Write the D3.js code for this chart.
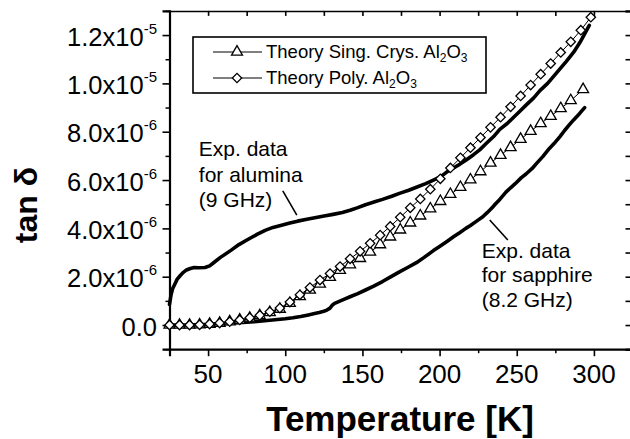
<!DOCTYPE html>
<html><head><meta charset="utf-8">
<script src="https://cdn.jsdelivr.net/npm/d3@7"></script>
<style>
body{margin:0;background:#fff;}
svg{display:block;font-family:"Liberation Sans",Arial,sans-serif;}
</style></head>
<body><svg id="c" width="630" height="439"></svg>
<script>
// ---- data (tan delta in units of 1e-6) ----
const polyT = [25,31.5,38,44.5,51,57.5,64,70.5,77,83.5,90,96.5,103,109.5,116,122.5,129,135.5,142,148.5,155,161.5,168,174.5,181,187.5,194,200.5,207,213.5,220,226.5,233,239.5,246,252.5,259,265.5,272,278.5,285,291.5,298];
const polyV = [0,0,0,0.01,0.04,0.08,0.14,0.21,0.3,0.4,0.55,0.7,0.95,1.25,1.55,1.86,2.13,2.42,2.74,3.05,3.38,3.72,4.08,4.46,4.85,5.22,5.62,6.05,6.5,6.92,7.34,7.76,8.18,8.6,9.03,9.48,9.93,10.38,10.82,11.28,11.72,12.2,12.74];
const singT = [25,31.5,38,44.5,51,57.5,64,70.5,77,83.5,90,96.5,103,109.5,116,122.5,129,135.5,142,148.5,155,161.5,168,174.5,181,187.5,194,200.5,207,213.5,220,226.5,233,239.5,246,252.5,259,265.5,272,278.5,285,293];
const singV = [0,0,0,0.01,0.04,0.08,0.14,0.21,0.29,0.39,0.52,0.66,0.9,1.18,1.45,1.7,1.98,2.27,2.5,2.76,3.02,3.33,3.65,3.94,4.23,4.52,4.81,5.12,5.41,5.7,6.01,6.35,6.71,7.03,7.35,7.69,8.02,8.34,8.64,8.96,9.29,9.75];
const aluT = [25,26,27,28.5,30,32,34,36,38.5,41,44,48,51,54,58,65,70,76,82,87,92,97,103,108,114,120,126,131,137,142,147,152,158,163,169,174,180,185,191,196,201,205,209,213,217,222,226,230,235,239,244,248,252,256,261,265,270,274,278,282,287,291,294,297];
const aluV = [0.85,1.25,1.5,1.7,1.9,2.05,2.18,2.28,2.34,2.38,2.37,2.38,2.45,2.6,2.8,3.1,3.33,3.55,3.76,3.92,4.04,4.12,4.22,4.3,4.38,4.45,4.52,4.58,4.66,4.75,4.86,4.98,5.1,5.2,5.33,5.45,5.58,5.7,5.85,6.0,6.15,6.35,6.5,6.65,6.82,7.05,7.25,7.5,7.8,8.1,8.35,8.6,8.85,9.1,9.4,9.7,10.0,10.3,10.6,10.9,11.3,11.7,12.05,12.4];
const sapT = [25,30,35,40,45,50,55,60,65,70,75,80,85,90,95,100,105,110,115,119,122,125,127,129,130.5,132,135,138,142,147,152,157,163,168,174,179,185,190,196,200,205,209,213,217,220,224,228,231,234,236,239,243,246,249,253,256,260,263,267,271,274,278,281,284,287,290,292,294];
const sapV = [0.0,0.0,0.0,0.01,0.02,0.03,0.05,0.06,0.08,0.1,0.12,0.14,0.17,0.2,0.23,0.26,0.3,0.35,0.42,0.48,0.52,0.57,0.62,0.7,0.82,0.9,0.98,1.06,1.17,1.3,1.45,1.6,1.8,1.98,2.2,2.37,2.58,2.8,3.08,3.25,3.47,3.65,3.82,4.0,4.12,4.3,4.48,4.66,4.85,5.0,5.2,5.5,5.68,5.85,6.1,6.25,6.48,6.7,6.98,7.3,7.5,7.8,8.05,8.28,8.5,8.7,8.85,9.0];

const xMajor = [50,100,150,200,250,300];
const xMinor = [25,75,125,175,225,275,325];
const yMajor = [0,2,4,6,8,10,12];
const yMinor = [-1,1,3,5,7,9,11,13];
const yMant = ["0.0","2.0x10","4.0x10","6.0x10","8.0x10","1.0x10","1.2x10"];
const yExp  = ["","-6","-6","-6","-6","-5","-5"];
const legendLabels = [["Theory Sing. Crys. Al","2","O","3"],["Theory Poly. Al","2","O","3"]];
const noteAlumina = ["Exp. data","for alumina","(9 GHz)"];
const noteSapphire = ["Exp. data","for sapphire","(8.2 GHz)"];

const svg = d3.select("#c");
const x = d3.scaleLinear().domain([25,325]).range([169.5,632.5]);
const y = d3.scaleLinear().domain([-1,13]).range([349.2,10.9]);

// frame + ticks
function styleAxis(g, w){ g.select(".domain").attr("stroke","#000").attr("stroke-width",w); g.selectAll(".tick line").attr("stroke","#000").attr("stroke-width",1.6); }
const ax = svg.append("g");
const b = ax.append("g").attr("transform",`translate(0,${y(-1)})`).call(d3.axisBottom(x).tickValues(xMajor).tickSizeOuter(0).tickSize(7).tickFormat(""));
styleAxis(b,2.2);
ax.append("g").attr("transform",`translate(0,${y(-1)})`).call(d3.axisBottom(x).tickValues(xMinor).tickSizeOuter(0).tickSize(4).tickFormat("")).call(g=>{g.select(".domain").remove();g.selectAll("line").attr("stroke","#000").attr("stroke-width",1.5);});
const l = ax.append("g").attr("transform",`translate(${x(25)},0)`).call(d3.axisLeft(y).tickValues(yMajor).tickSizeOuter(0).tickSize(7).tickFormat(""));
styleAxis(l,2.2);
ax.append("g").attr("transform",`translate(${x(25)},0)`).call(d3.axisLeft(y).tickValues(yMinor).tickSizeOuter(0).tickSize(4).tickFormat("")).call(g=>{g.select(".domain").remove();g.selectAll("line").attr("stroke","#000").attr("stroke-width",1.5);});
const t = ax.append("g").attr("transform",`translate(0,${y(13)})`).call(d3.axisTop(x).tickValues(xMajor.concat(xMinor)).tickSizeOuter(0).tickSize(-5).tickFormat(""));
styleAxis(t,1.5);
const r = ax.append("g").attr("transform",`translate(${x(325)},0)`).call(d3.axisRight(y).tickValues(yMajor.concat(yMinor)).tickSizeOuter(0).tickSize(-7).tickFormat(""));
styleAxis(r,2);

// tick labels
svg.append("g").selectAll("text").data(xMajor).join("text")
  .attr("x",d=>x(d)).attr("y",383).attr("text-anchor","middle")
  .attr("font-size",26).text(d=>d);
const yl = svg.append("g").selectAll("text").data(yMajor).join("text")
  .attr("x",157).attr("y",d=>y(d)+10.5).attr("text-anchor","end").attr("font-size",25.5);
yl.append("tspan").text((d,i)=>yMant[i]);
yl.append("tspan").attr("font-size",15).attr("dy",-12).text((d,i)=>yExp[i]);

// titles
svg.append("text").attr("transform","translate(37,205) rotate(-90)").attr("text-anchor","middle")
  .attr("font-size",32).attr("font-weight","bold").text("tan δ");
svg.append("text").attr("x",400).attr("y",431).attr("text-anchor","middle")
  .attr("font-size",35).attr("font-weight","bold").text("Temperature [K]");

// experimental curves
const line = d3.line().x(d=>x(d[0])).y(d=>y(d[1]));
const exp = svg.append("g").attr("fill","none").attr("stroke","#000").attr("stroke-width",3.6).attr("stroke-linejoin","round").attr("stroke-linecap","round");
exp.append("path").attr("d",line(aluT.map((v,i)=>[v,aluV[i]])));
exp.append("path").attr("d",line(sapT.map((v,i)=>[v,sapV[i]])));

// theory curves
const tri = d3.symbol().type(d3.symbolTriangle).size(52);
const dia = d3.symbol().type(d3.symbolSquare).size(44);
function theory(T,V,sym,rot){
  const pts = T.map((v,i)=>[v,V[i]]);
  const g = svg.append("g");
  g.append("path").attr("d",line(pts)).attr("fill","none").attr("stroke","#000").attr("stroke-width",1);
  g.selectAll("path.m").data(pts).join("path").attr("class","m")
    .attr("transform",d=>`translate(${x(d[0])},${y(d[1])}) rotate(${rot})`)
    .attr("d",sym()).attr("fill","#fff").attr("stroke","#000").attr("stroke-width",1.3);
}
theory(singT,singV,tri,0);
theory(polyT,polyV,dia,45);

// legend
const lg = svg.append("g");
lg.append("rect").attr("x",193).attr("y",37).attr("width",293).attr("height",56).attr("fill","#fff").attr("stroke","#000").attr("stroke-width",1.6);
const rows = [{y:52,sym:tri,rot:0},{y:78,sym:dia,rot:45}];
rows.forEach((rw,i)=>{
  lg.append("line").attr("x1",213).attr("x2",262).attr("y1",rw.y).attr("y2",rw.y).attr("stroke","#000").attr("stroke-width",1);
  lg.append("path").attr("d",rw.sym()).attr("transform",`translate(237,${rw.y}) rotate(${rw.rot})`).attr("fill","#fff").attr("stroke","#000").attr("stroke-width",1.3);
  const tx = lg.append("text").attr("x",266).attr("y",rw.y+6).attr("font-size",18.5);
  const p = legendLabels[i];
  tx.append("tspan").text(p[0]);
  tx.append("tspan").attr("font-size",12).attr("dy",4).text(p[1]);
  tx.append("tspan").attr("dy",-4).text(p[2]);
  tx.append("tspan").attr("font-size",12).attr("dy",4).text(p[3]);
});

// annotations
const an = svg.append("g").attr("font-size",21);
an.selectAll("text.a").data(noteAlumina).join("text").attr("class","a")
  .attr("x",x(44)).attr("y",(d,i)=>156+i*25.5).text(d=>d);
an.selectAll("text.s").data(noteSapphire).join("text").attr("class","s")
  .attr("x",x(227.3)).attr("y",(d,i)=>257.5+i*24.5).text(d=>d);
svg.append("line").attr("x1",x(98.4)).attr("y1",y(5.55)).attr("x2",x(107.5)).attr("y2",y(4.55)).attr("stroke","#000").attr("stroke-width",1.6);
svg.append("line").attr("x1",x(244.2)).attr("y1",y(3.52)).attr("x2",x(232.5)).attr("y2",y(4.35)).attr("stroke","#000").attr("stroke-width",1.6);
</script></body></html>
